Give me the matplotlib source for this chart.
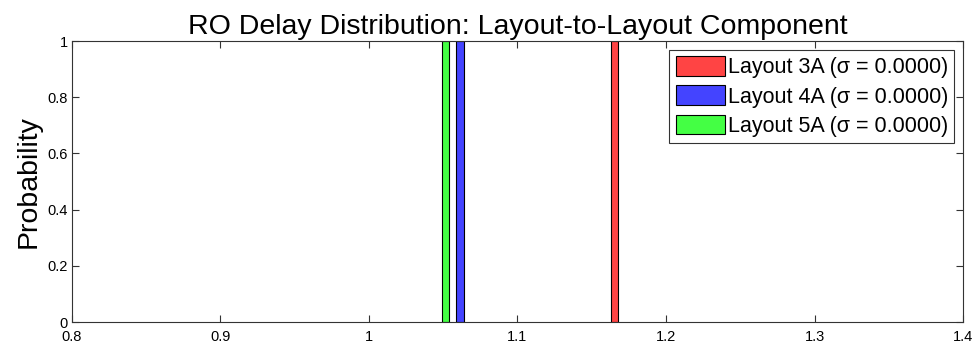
import matplotlib
matplotlib.use('Agg')
import matplotlib.pyplot as plt

plt.rcParams['font.family'] = ['Liberation Sans', 'DejaVu Sans']

# layout delays (normalized) and their probabilities
layouts = ['Layout 3A', 'Layout 4A', 'Layout 5A']
delays = [1.1654, 1.0612, 1.0515]
probs = [1.0, 1.0, 1.0]
sigmas = [0.0, 0.0, 0.0]
colors = ['#ff4444', '#4444ff', '#44ff44']
xticks = [0.8, 0.9, 1.0, 1.1, 1.2, 1.3, 1.4]
yticks = [0, 0.2, 0.4, 0.6, 0.8, 1]

fig = plt.figure(figsize=(9.79, 3.52), dpi=100)
ax = fig.add_axes([0.0735, 0.085, 0.9102, 0.7985])

for name, d, p, s, c in zip(layouts, delays, probs, sigmas, colors):
    ax.bar(d, p, width=0.005, color=c, edgecolor='black', linewidth=0.8,
           label='{} (σ = {:.4f})'.format(name, s))

ax.set_xlim(0.8, 1.4)
ax.set_ylim(0, 1)
ax.set_xticks(xticks)
ax.set_xticklabels(['0.8', '0.9', '1', '1.1', '1.2', '1.3', '1.4'])
ax.set_yticks(yticks)
ax.set_yticklabels(['0', '0.2', '0.4', '0.6', '0.8', '1'])
ax.tick_params(direction='in', top=True, right=True, labelsize=10.5, length=5,
               width=0.8, color='#333333')
ax.tick_params(axis='x', pad=6)
ax.tick_params(axis='y', pad=3)
for sp in ax.spines.values():
    sp.set_linewidth(0.8)
    sp.set_color('#333333')

ax.set_ylabel('Probability', fontsize=20.5, labelpad=4)
ax.set_title('RO Delay Distribution: Layout-to-Layout Component', fontsize=20.5, pad=5)

leg = ax.legend(loc='upper right', fontsize=15.5, frameon=True, fancybox=False,
                edgecolor='black', handlelength=2.3, handleheight=1.05,
                handletextpad=0.1, borderpad=0.3, labelspacing=0.32,
                borderaxespad=0.4)
leg.get_frame().set_linewidth(0.8)

fig.savefig('out.png', dpi=100)
